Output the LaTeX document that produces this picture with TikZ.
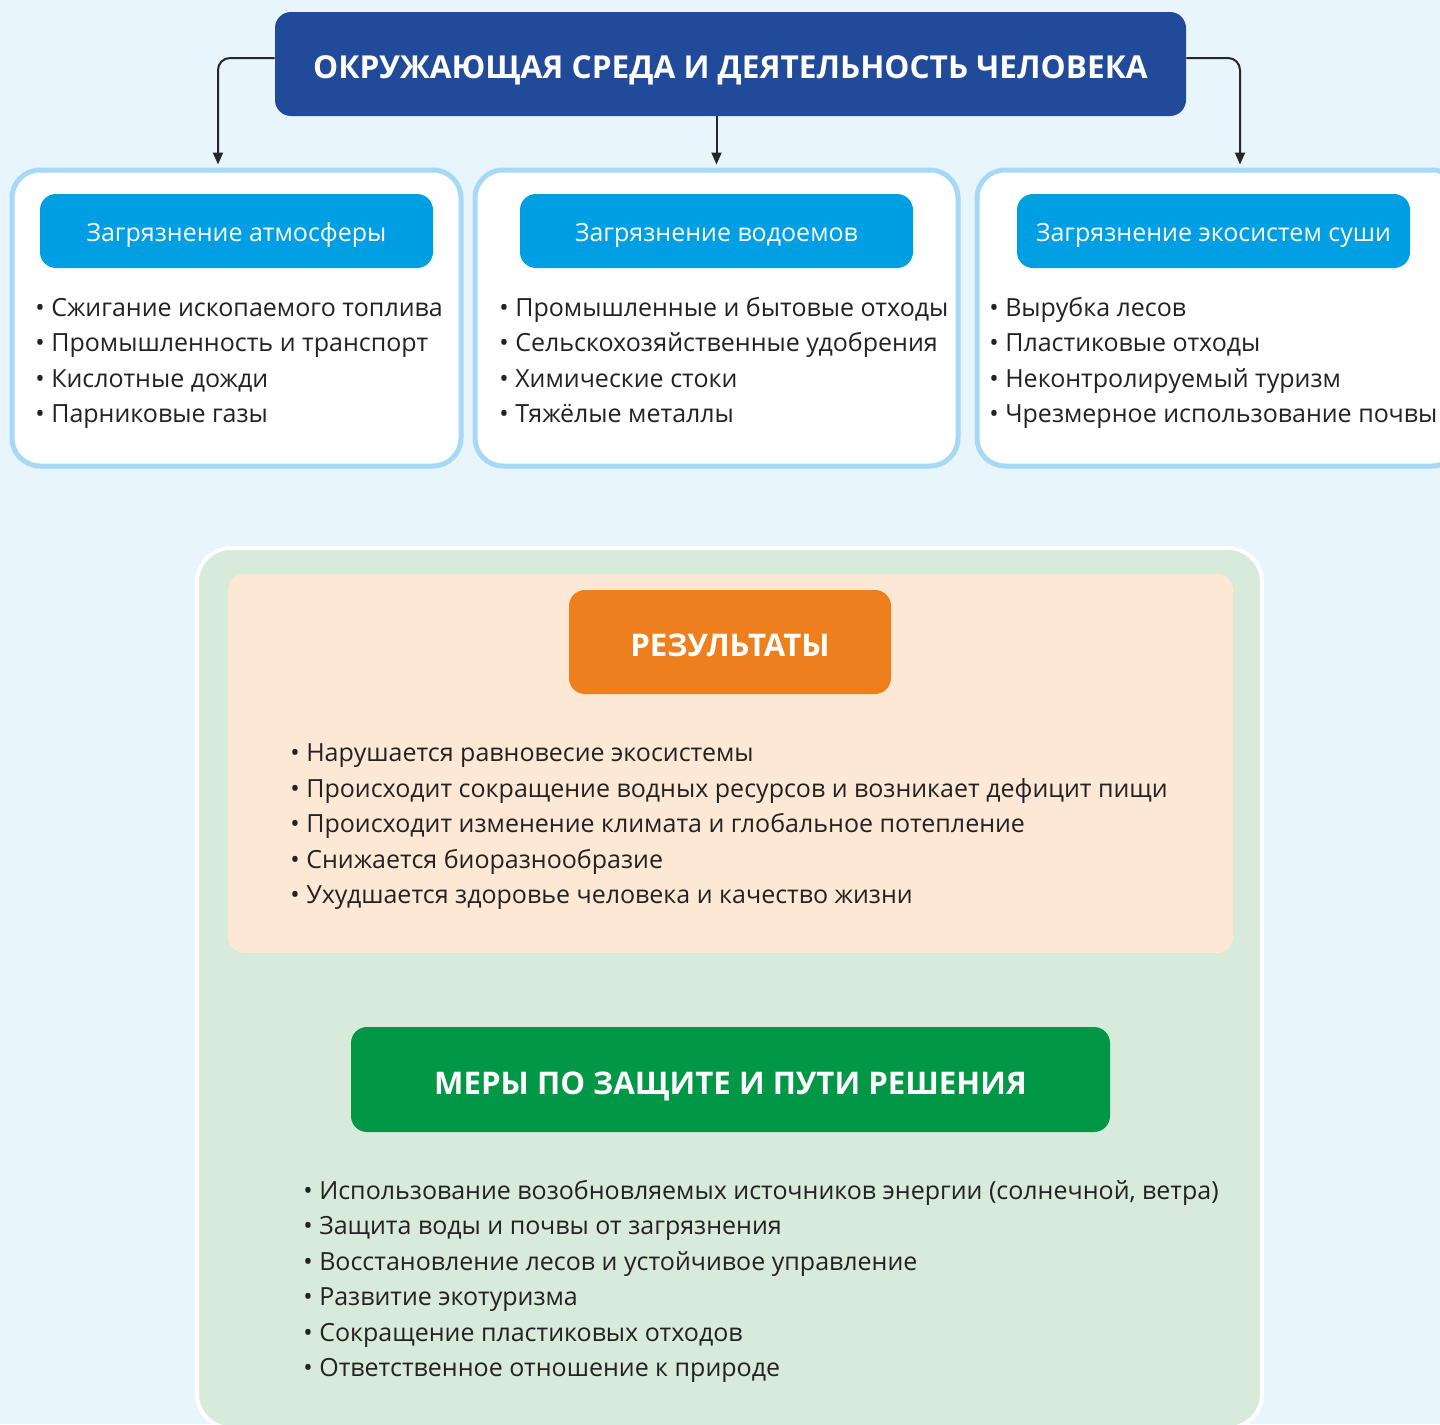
\documentclass[tikz,border=0pt]{standalone}
\usepackage{fontspec}
\setmainfont{Open Sans}
\usetikzlibrary{arrows.meta}
\definecolor{bgc}{HTML}{E8F5FD}
\definecolor{topc}{HTML}{214B9A}
\definecolor{lbord}{HTML}{A6D9F5}
\definecolor{subc}{HTML}{009FE3}
\definecolor{greenpan}{HTML}{D8EADA}
\definecolor{orpan}{HTML}{FDE8D5}
\definecolor{orc}{HTML}{EE7F1D}
\definecolor{grc}{HTML}{009846}
\definecolor{txtc}{HTML}{222222}
\tikzset{
  topbox/.style={fill=topc, rounded corners=8pt, text=white, font=\fontsize{15.8}{19}\selectfont\bfseries, inner sep=0pt, text height=14.8pt, text depth=0pt},
  group/.style={draw=lbord, line width=2.5pt, fill=white, rounded corners=14pt, inner sep=0pt},
  subhdr/.style={fill=subc, rounded corners=8pt, text=white, font=\fontsize{12.5}{15}\selectfont, minimum width=196.5pt, minimum height=37pt, inner sep=0pt, text height=10pt, text depth=0pt},
  item/.style={anchor=base west, inner sep=0pt, text=txtc, font=\fontsize{12.5}{15}\selectfont},
  hdr/.style={rounded corners=8pt, text=white, font=\fontsize{15.6}{18}\selectfont\bfseries, inner sep=0pt, text height=14.6pt, text depth=0pt},
  arr/.style={draw=black!85, line width=1pt, rounded corners=6pt, -{Triangle[length=6pt,width=5pt]}}
}
\begin{document}
\begin{tikzpicture}[x=0.5pt,y=-0.5pt]
\useasboundingbox (0,0) rectangle (1440,1424);
\clip (0,0) rectangle (1440,1424);
\fill[bgc] (0,0) rectangle (1440,1424);

% top
\node[topbox, minimum width=455.5pt, minimum height=52pt] (top) at (730.5,64) {ОКРУЖАЮЩАЯ СРЕДА И ДЕЯТЕЛЬНОСТЬ ЧЕЛОВЕКА};

% groups
\node[group, minimum width=224.5pt, minimum height=148pt] (g1) at (236.5,318) {};
\node[group, minimum width=241.5pt, minimum height=148pt] (g2) at (716.5,318) {};
\node[group, minimum width=241.5pt, minimum height=148pt] (g3) at (1218.5,318) {};

\node[subhdr] (s1) at (236.5,231) {Загрязнение атмосферы};
\node[subhdr] (s2) at (716.5,231) {Загрязнение водоемов};
\node[subhdr] (s3) at (1213.5,231) {Загрязнение экосистем суши};

\foreach \t [count=\i] in {Сжигание ископаемого топлива, Промышленность и транспорт, Кислотные дожди, Парниковые газы}
  \node[item] (a\i) at (35,{316.5+35.4*(\i-1)}) {•\ \t};
\foreach \t [count=\i] in {Промышленные и бытовые отходы, Сельскохозяйственные удобрения, Химические стоки, Тяжёлые металлы}
  \node[item] (b\i) at (499,{316.5+35.4*(\i-1)}) {•\ \t};
\foreach \t [count=\i] in {Вырубка лесов, Пластиковые отходы, Неконтролируемый туризм, Чрезмерное использование почвы}
  \node[item] (c\i) at (989,{316.5+35.4*(\i-1)}) {•\ \t};

% arrows
\coordinate (lt) at ([xshift=-9.25pt]g1.north);
\coordinate (rt) at ([xshift=10.75pt]g3.north);
\draw[arr] ([yshift=3pt]top.west) -| ([yshift=1.5pt]lt);
\draw[arr] (top.south -| g2.north) -- ([yshift=1.5pt]g2.north);
\draw[arr] ([yshift=3pt]top.east) -| ([yshift=1.5pt]rt);

% bottom container
\node[draw=white, line width=2pt, fill=greenpan, rounded corners=17pt, minimum width=532.5pt, minimum height=440pt, inner sep=0pt] (cont) at (729.5,988) {};
\node[fill=orpan, rounded corners=8pt, minimum width=502.5pt, minimum height=189.5pt, inner sep=0pt] (orp) at (730.5,763.5) {};

\node[hdr, fill=orc, minimum width=161pt, minimum height=52pt] (res) at (730,642) {РЕЗУЛЬТАТЫ};
\foreach \t [count=\i] in {Нарушается равновесие экосистемы, Происходит сокращение водных ресурсов и возникает дефицит пищи, Происходит изменение климата и глобальное потепление, Снижается биоразнообразие, Ухудшается здоровье человека и качество жизни}
  \node[item] (r\i) at (290,{761.5+35.5*(\i-1)}) {•\ \t};

\node[hdr, fill=grc, minimum width=379.5pt, minimum height=52.5pt] (mer) at (730.5,1079.5) {МЕРЫ ПО ЗАЩИТЕ И ПУТИ РЕШЕНИЯ};
\foreach \t [count=\i] in {{Использование возобновляемых источников энергии (солнечной, ветра)}, Защита воды и почвы от загрязнения, Восстановление лесов и устойчивое управление, Развитие экотуризма, Сокращение пластиковых отходов, Ответственное отношение к природе}
  \node[item] (m\i) at (303,{1199.5+35.4*(\i-1)}) {•\ \t};
\end{tikzpicture}
\end{document}
